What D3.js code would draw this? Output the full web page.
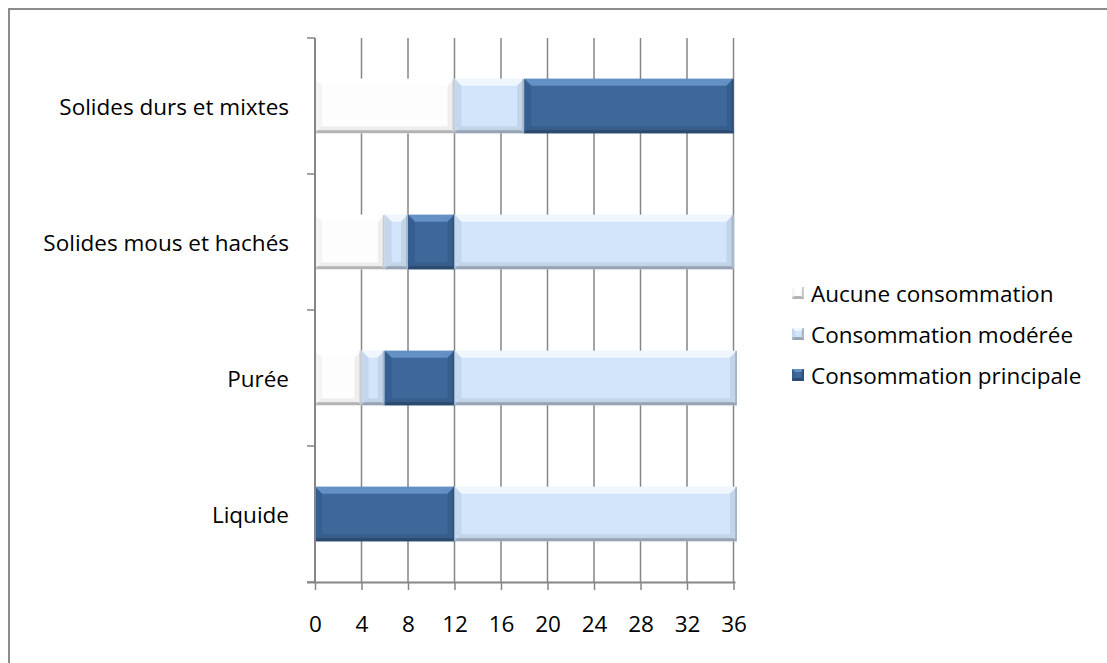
<!DOCTYPE html>
<html>
<head>
<meta charset="utf-8">
<script src="https://cdn.jsdelivr.net/npm/d3@7"></script>
<style>
  html, body { margin: 0; padding: 0; background: #fff; }
  svg { display: block; }
  text { font-family: "Open Sans", "Liberation Sans", sans-serif; fill: #000; }
</style>
</head>
<body>
<svg id="chart" width="1107" height="663"></svg>
<script>
// Food texture categories (top to bottom on the chart)
const categories = ["Solides durs et mixtes", "Solides mous et hachés", "Purée", "Liquide"];

// Stacked series values per category
const aucune     = [12, 6, 4, 0];
const moderee    = [6, 2, 2, 0];
const principale = [18, 4, 6, 12];
const reste      = [0, 24, 24.3, 24.3];

const seriesNames = ["Aucune consommation", "Consommation modérée", "Consommation principale", ""];
const xTicks = [0, 4, 8, 12, 16, 20, 24, 28, 32, 36];

const palette = {
  white: { base: "#fdfdfd", light: "#ffffff", dark: "#a8a8a8", mid: "#ececec", side: "#eeeeee" },
  light: { base: "#d3e5fb", light: "#f6faff", dark: "#8e9bab", mid: "#c0d1e6", side: "#bccde3" },
  dark:  { base: "#3d6899", light: "#6e9ad0", dark: "#2a4668", mid: "#365d89", side: "#34598a" }
};
const seriesStyle = ["white", "light", "dark", "light"];

const rows = categories.map((c, i) => ({
  cat: c, vals: [aucune[i], moderee[i], principale[i], reste[i]]
}));

const svg = d3.select("#chart");
const FS = 22.5;

// outer frame
svg.append("rect").attr("x", 9).attr("y", 9).attr("width", 1110).attr("height", 670)
  .attr("fill", "none").attr("stroke", "#8c8c8c").attr("stroke-width", 2);

const m = { left: 315, top: 38, right: 733.5, bottom: 582 };
const x = d3.scaleLinear().domain([0, 36]).range([m.left, m.right]);
const y = d3.scaleBand().domain(categories).range([m.top, m.bottom]).paddingInner(0.6).paddingOuter(0.3);
const yOuter = d3.scaleBand().domain(categories).range([m.top, m.bottom]).padding(0);

// vertical gridlines
svg.append("g").selectAll("line").data(xTicks.slice(1)).join("line")
  .attr("x1", d => x(d)).attr("x2", d => x(d))
  .attr("y1", m.top).attr("y2", m.bottom)
  .attr("stroke", "#868686").attr("stroke-width", 1.5);

// bars with soft bevelled edges
const bev = 7;
const gBars = svg.append("g");
function bevelBox(g, x0, y0, x1, y1, p, b) {
  b = Math.min(b, (x1 - x0) / 2);
  g.append("rect").attr("x", x0).attr("y", y0).attr("width", x1 - x0).attr("height", y1 - y0).attr("fill", p.base);
  g.append("polygon").attr("points", [[x0, y0], [x1, y0], [x1 - b, y0 + b], [x0 + b, y0 + b]].join(" "))
    .attr("fill", p.light).attr("opacity", 0.8);
  g.append("polygon").attr("points", [[x0, y1], [x1, y1], [x1 - b, y1 - b], [x0 + b, y1 - b]].join(" "))
    .attr("fill", p.mid).attr("opacity", 0.9);
  g.append("rect").attr("x", x0).attr("y", y1 - 3).attr("width", x1 - x0).attr("height", 3)
    .attr("fill", p.dark).attr("opacity", 0.85);
  g.append("polygon").attr("points", [[x0, y0], [x0 + b, y0 + b], [x0 + b, y1 - b], [x0, y1]].join(" "))
    .attr("fill", p.side).attr("opacity", 0.6);
  g.append("polygon").attr("points", [[x1, y0], [x1 - b, y0 + b], [x1 - b, y1 - b], [x1, y1]].join(" "))
    .attr("fill", p.mid).attr("opacity", 0.9);
  g.append("rect").attr("x", x1 - 2).attr("y", y0).attr("width", 2).attr("height", y1 - y0)
    .attr("fill", p.dark).attr("opacity", 0.5);
}
rows.forEach(r => {
  let acc = 0;
  r.vals.forEach((v, si) => {
    if (v <= 0) { acc += v; return; }
    const x0 = x(acc), x1 = x(acc + v);
    acc += v;
    const y0 = y(r.cat), y1 = y(r.cat) + y.bandwidth();
    bevelBox(gBars.append("g"), x0, y0, x1, y1, palette[seriesStyle[si]], bev);
  });
});

// value axis
const xAxis = d3.axisBottom(x).tickValues(xTicks).tickSize(8).tickPadding(26).tickFormat(d3.format("d"));
const gx = svg.append("g").attr("transform", `translate(0,${m.bottom})`).call(xAxis);
gx.select(".domain").attr("d", `M${m.left - 8},0.5H${m.right + 2}`).attr("stroke", "#868686").attr("stroke-width", 2);
gx.selectAll(".tick line").attr("stroke", "#868686").attr("stroke-width", 1.5);
gx.selectAll(".tick text").attr("font-size", FS).attr("font-family", "'Open Sans', sans-serif").attr("fill", "#000");

// category axis
const gy = svg.append("g");
gy.append("line").attr("x1", m.left).attr("x2", m.left).attr("y1", m.top).attr("y2", m.bottom)
  .attr("stroke", "#868686").attr("stroke-width", 2);
const bounds = categories.map(c => yOuter(c)).concat([m.bottom]);
gy.selectAll("line.tk").data(bounds).join("line").attr("class", "tk")
  .attr("x1", m.left - 8).attr("x2", m.left).attr("y1", d => d).attr("y2", d => d)
  .attr("stroke", "#868686").attr("stroke-width", 1.5);
gy.selectAll("text").data(categories).join("text")
  .attr("x", 289).attr("y", d => y(d) + y.bandwidth() / 2)
  .attr("text-anchor", "end").attr("dominant-baseline", "central")
  .attr("font-size", FS).text(d => d);

// legend
const legendItems = [
  { name: seriesNames[0], style: "white" },
  { name: seriesNames[1], style: "light" },
  { name: seriesNames[2], style: "dark" }
];
const lg = svg.append("g").attr("transform", "translate(792,293)");
legendItems.forEach((d, i) => {
  const p = palette[d.style];
  const gi = lg.append("g").attr("transform", `translate(0,${i * 41})`);
  const s = 12;
  const box = gi.append("g");
  bevelBox(box, 0, -s / 2, s, s / 2, p, 3);
  gi.append("text").attr("x", 19).attr("y", 0).attr("dominant-baseline", "central")
    .attr("font-size", FS).text(d.name);
});
</script>
</body>
</html>
